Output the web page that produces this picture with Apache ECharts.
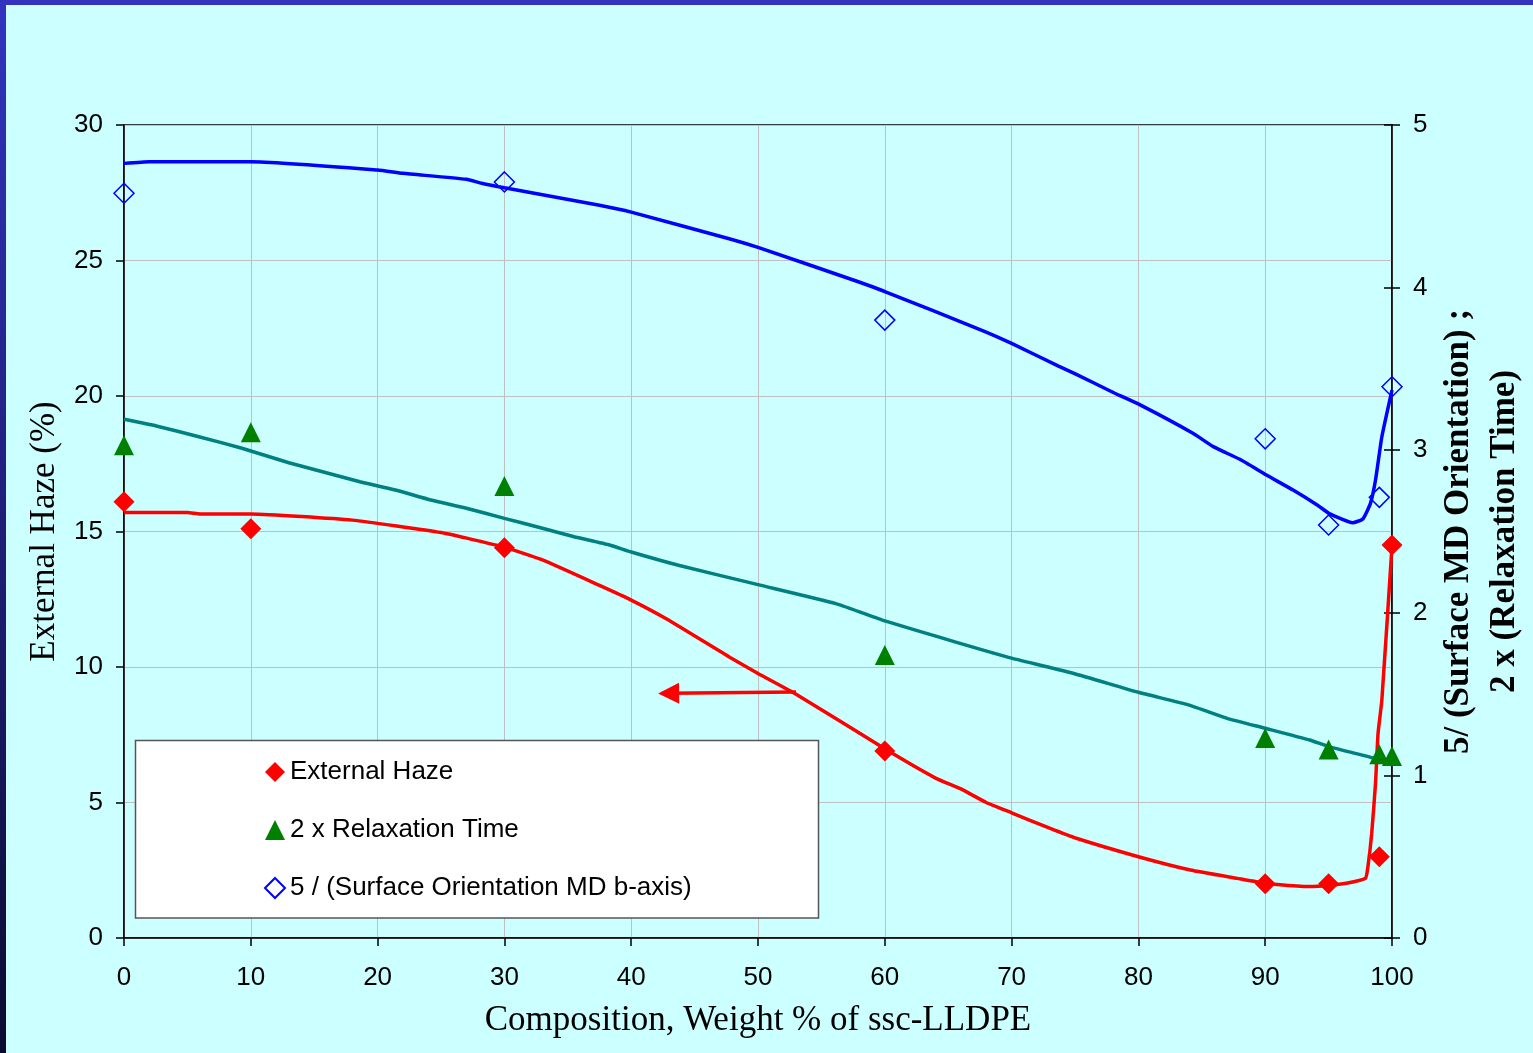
<!DOCTYPE html>
<html>
<head>
<meta charset="utf-8">
<title>External Haze vs Composition</title>
<script src="https://cdn.jsdelivr.net/npm/echarts@6/dist/echarts.min.js"></script>
<style>
  html, body { margin: 0; padding: 0; background: #CCFFFF; overflow: hidden; }
  #chart { width: 1533px; height: 1053px; }
</style>
</head>
<body>
<div id="chart"></div>
<script>
// Measured blends: composition in weight % of ssc-LLDPE
const composition = [0, 10, 30, 60, 90, 95, 99, 100];
const externalHaze = [16.1, 15.1, 14.4, 6.9, 2.0, 2.0, 3.0, 14.5];
const relaxationTime2x = [3.03, 3.11, 2.78, 1.74, 1.23, 1.16, 1.13, 1.12];
const orientation5 = [4.58, null, 4.65, 3.80, 3.07, 2.54, 2.71, 3.39];

// Trend curve through the haze results (left axis)
const hazeTrendX = [0, 5, 6, 10, 18, 25, 30, 33, 37.5, 40, 42.8, 47.8, 50, 53.1, 60, 64, 66, 68, 70, 73, 75.1, 80, 84.1, 87.8, 90, 91.4, 93.5, 95, 96.4, 97.9, 98.1, 98.4, 98.7, 98.9, 99.2, 100];
const hazeTrendY = [15.70, 15.70, 15.65, 15.65, 15.42, 14.96, 14.42, 13.95, 13.01, 12.47, 11.77, 10.35, 9.76, 8.97, 6.98, 5.90, 5.50, 5.00, 4.62, 4.05, 3.68, 3.00, 2.51, 2.20, 2.02, 1.96, 1.90, 1.94, 2.02, 2.20, 2.63, 3.86, 5.71, 7.55, 8.78, 14.46];

// Trend curve through the relaxation-time results (right axis)
const relaxTrendX = [0, 2.55, 5.9, 9.3, 13, 15.8, 18.6, 21.4, 24.2, 27, 30, 32.7, 35.5, 38.3, 40, 43.8, 50, 56.2, 60, 65.6, 70, 74.9, 80, 84, 87, 90, 93.5, 95, 98.6, 100];
const relaxTrendY = [3.19, 3.149, 3.083, 3.012, 2.923, 2.864, 2.806, 2.755, 2.694, 2.643, 2.581, 2.526, 2.468, 2.417, 2.374, 2.291, 2.173, 2.055, 1.950, 1.820, 1.721, 1.627, 1.511, 1.432, 1.351, 1.290, 1.218, 1.177, 1.105, 1.064];

// Trend curve through the orientation results (right axis)
const orientTrendX = [0, 2, 10, 20, 22, 27, 28.2, 30, 37.5, 40, 47.8, 50, 57.8, 60, 67.8, 70, 73.7, 74.9, 78.1, 80.1, 84.3, 85.9, 88, 90.1, 92.2, 94.1, 95.1, 96.9, 97.7, 98.3, 98.7, 99.2, 100];
const orientTrendY = [4.764, 4.774, 4.774, 4.723, 4.703, 4.666, 4.642, 4.614, 4.506, 4.464, 4.299, 4.247, 4.039, 3.976, 3.733, 3.657, 3.517, 3.474, 3.352, 3.280, 3.104, 3.022, 2.944, 2.847, 2.755, 2.663, 2.608, 2.554, 2.577, 2.673, 2.817, 3.083, 3.37];

// Arrow pointing the haze curve to its (left) axis: [composition, haze]
const arrowStart = [53.0, 9.08];
const arrowEnd = [42.95, 9.03];

// Axis ranges
const xRange = { min: 0, max: 100, step: 10 };
const hazeRange = { min: 0, max: 30, step: 5 };
const rightRange = { min: 0, max: 5, step: 1 };

const names = {
  haze: 'External Haze',
  relax: '2 x Relaxation Time',
  orient: '5 / (Surface Orientation MD b-axis)'
};

const pairs = (xs, ys) => xs.map((x, i) => [x, ys[i]]).filter(p => p[1] !== null);

const SANS = 'Liberation Sans, Arial, sans-serif';
const SERIF = 'Liberation Serif, Times New Roman, serif';

const chart = echarts.init(document.getElementById('chart'), null, { renderer: 'canvas' });

const tickLabel = { fontFamily: SANS, fontSize: 26, color: '#000' };

chart.setOption({
  backgroundColor: '#CCFFFF',
  animation: false,
  grid: {
    left: 124, top: 125, right: 141, bottom: 115,
    outerBoundsMode: 'none',
    containLabel: false,
    show: true, borderColor: '#000', borderWidth: 1.5, backgroundColor: 'transparent'
  },
  xAxis: {
    type: 'value', min: xRange.min, max: xRange.max, interval: xRange.step,
    name: 'Composition, Weight % of ssc-LLDPE',
    nameLocation: 'middle', nameGap: 65,
    nameTextStyle: { fontFamily: SERIF, fontSize: 35, color: '#000' },
    axisLine: { lineStyle: { color: '#000', width: 1.5 } },
    axisTick: { show: true, length: 8, lineStyle: { color: '#000', width: 1.5 } },
    axisLabel: Object.assign({ margin: 27 }, tickLabel),
    splitLine: { show: true, lineStyle: { color: '#C0C0C0', width: 1 } }
  },
  yAxis: [
    {
      type: 'value', position: 'left', min: hazeRange.min, max: hazeRange.max, interval: hazeRange.step,
      name: 'External Haze (%)',
      nameLocation: 'middle', nameGap: 62, nameRotate: 90,
      nameTextStyle: { fontFamily: SERIF, fontSize: 35, color: '#000' },
      axisLine: { show: true, lineStyle: { color: '#000', width: 1.5 } },
      axisTick: { show: true, length: 8, lineStyle: { color: '#000', width: 1.5 } },
      axisLabel: Object.assign({ margin: 21 }, tickLabel),
      splitLine: { show: true, lineStyle: { color: '#C0C0C0', width: 1 } }
    },
    {
      type: 'value', position: 'right', min: rightRange.min, max: rightRange.max, interval: rightRange.step,
      name: '5/ (Surface MD Orientation) ;\n2 x (Relaxation Time)',
      nameLocation: 'middle', nameGap: 44, nameRotate: 90,
      nameMoveOverlap: false,
      nameTextStyle: { fontFamily: SERIF, fontSize: 35, fontWeight: 'bold', color: '#000', lineHeight: 46, align: 'center' },
      axisLine: { show: true, lineStyle: { color: '#000', width: 1.5 } },
      axisTick: { show: true, length: 8, lineStyle: { color: '#000', width: 1.5 } },
      axisLabel: Object.assign({ margin: 21 }, tickLabel),
      splitLine: { show: false }
    },
    {
      // inner half of the cross ticks on the right axis
      type: 'value', position: 'right', min: rightRange.min, max: rightRange.max, interval: rightRange.step,
      axisLine: { show: false },
      axisTick: { show: true, inside: true, length: 8, lineStyle: { color: '#000', width: 1.5 } },
      axisLabel: { show: false },
      splitLine: { show: false }
    }
  ],
  legend: {
    data: [names.haze, names.relax, names.orient],
    orient: 'vertical',
    left: 264, top: 759,
    padding: 0,
    itemWidth: 20, itemHeight: 20, itemGap: 32,
    selectedMode: false,
    textStyle: { fontFamily: SANS, fontSize: 26, color: '#000', lineHeight: 26 },
    z: 10
  },
  graphic: [
    { type: 'rect', z: 100, shape: { x: 0, y: 0, width: 1533, height: 5 }, style: { fill: '#3333C0' } },
    {
      type: 'rect', z: 100, shape: { x: 0, y: 0, width: 6, height: 1053 },
      style: {
        fill: new echarts.graphic.LinearGradient(0, 0, 0, 1, [
          { offset: 0, color: '#3333C0' },
          { offset: 1, color: '#0A0A30' }
        ])
      }
    },
    {
      type: 'rect', z: 8,
      shape: { x: 135.5, y: 740.5, width: 683, height: 177.5 },
      style: { fill: '#FFFFFF', stroke: '#555555', lineWidth: 1.5 }
    }
  ],
  series: [
    {
      name: 'haze trend', type: 'line', yAxisIndex: 0, z: 2,
      data: pairs(hazeTrendX, hazeTrendY),
      showSymbol: false, symbol: 'none', smooth: 0.15,
      lineStyle: { color: '#FF0000', width: 3.5 },
      silent: true,
      markLine: {
        silent: true,
        symbol: ['none', 'triangle'],
        symbolSize: 21,
        label: { show: false },
        lineStyle: { color: '#FF0000', width: 3.5, type: 'solid' },
        data: [[{ coord: arrowStart }, { coord: arrowEnd }]]
      }
    },
    {
      name: 'relaxation trend', type: 'line', yAxisIndex: 1, z: 2,
      data: pairs(relaxTrendX, relaxTrendY),
      showSymbol: false, symbol: 'none', smooth: 0.15,
      lineStyle: { color: '#008080', width: 3.5 },
      silent: true
    },
    {
      name: 'orientation trend', type: 'line', yAxisIndex: 1, z: 2,
      data: pairs(orientTrendX, orientTrendY),
      showSymbol: false, symbol: 'none', smooth: 0.15,
      lineStyle: { color: '#0000FF', width: 3.5 },
      silent: true
    },
    {
      name: names.haze, type: 'scatter', yAxisIndex: 0, z: 3,
      data: pairs(composition, externalHaze),
      symbol: 'diamond', symbolSize: 21,
      itemStyle: { color: '#FF0000', opacity: 1 }
    },
    {
      name: names.relax, type: 'scatter', yAxisIndex: 1, z: 3,
      data: pairs(composition, relaxationTime2x),
      symbol: 'triangle', symbolSize: 20,
      itemStyle: { color: '#008000', opacity: 1 }
    },
    {
      name: names.orient, type: 'scatter', yAxisIndex: 1, z: 3,
      data: pairs(composition, orientation5),
      symbol: 'diamond', symbolSize: 20,
      itemStyle: { color: 'rgba(0,0,0,0)', borderColor: '#0000FF', borderWidth: 1.5, opacity: 1 }
    }
  ]
});
</script>
</body>
</html>
